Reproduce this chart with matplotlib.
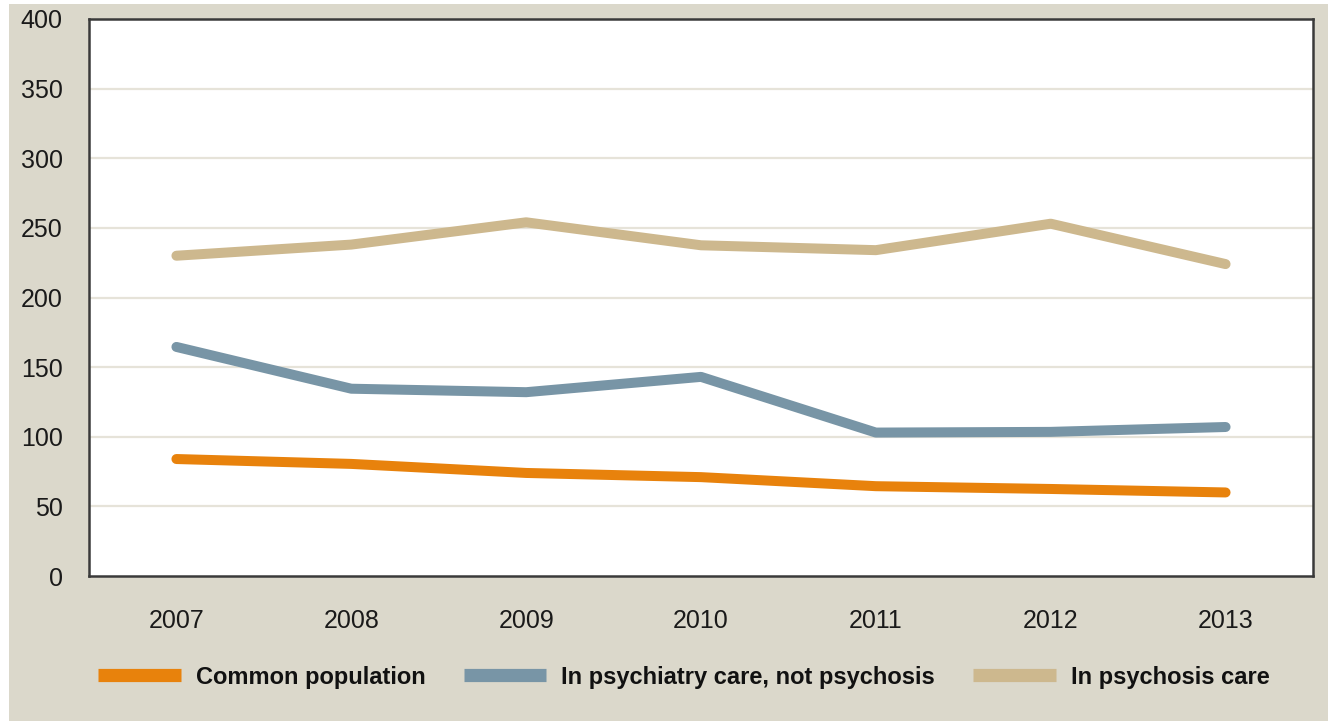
import matplotlib
matplotlib.use("Agg")
import matplotlib.pyplot as plt
from matplotlib.patches import Rectangle

years = ["2007", "2008", "2009", "2010", "2011", "2012", "2013"]
common_population = [84, 80.5, 74, 71, 64.5, 62.5, 60]
psychiatry_not_psychosis = [164.5, 134.5, 132, 143, 103, 103.5, 107]
psychosis_care = [230, 238, 254, 237.5, 234, 253, 224]

series_labels = ["Common population", "In psychiatry care, not psychosis", "In psychosis care"]
series_colors = ["#E8820C", "#7895A6", "#CDB88E"]

yticks = [0, 50, 100, 150, 200, 250, 300, 350, 400]

BG = "#DBD8CB"
TICK_FONT = ["Liberation Sans", "DejaVu Sans"]
LEG_FONT = ["Liberation Sans", "DejaVu Sans"]

fig = plt.figure(figsize=(13.28, 7.21), dpi=100)
fig.patch.set_facecolor("white")
fig.add_artist(Rectangle((9 / 1328, 0), 1 - 9 / 1328, 1 - 4 / 721,
                         transform=fig.transFigure, facecolor=BG,
                         edgecolor="none", zorder=-10))

ax = fig.add_axes([89 / 1328, 1 - 576 / 721, (1313 - 89) / 1328, (576 - 19) / 721])
ax.set_facecolor("white")

x = list(range(len(years)))
for vals, lab, col in zip([common_population, psychiatry_not_psychosis, psychosis_care],
                          series_labels, series_colors):
    ax.plot(x, vals, color=col, linewidth=7.2, solid_capstyle="round",
            solid_joinstyle="round", label=lab, zorder=3)

ax.set_xlim(-0.5, len(years) - 0.5)
ax.set_ylim(0, 400)
ax.set_xticks(x)
ax.set_xticklabels(years)
ax.set_yticks(yticks)
ax.set_yticklabels([str(v) for v in yticks])

for v in yticks[1:-1]:
    ax.axhline(v, color="#E6E3D9", linewidth=1.6, zorder=1)

for s in ax.spines.values():
    s.set_color("#3A3A3A")
    s.set_linewidth(1.8)
    s.set_zorder(5)

ax.tick_params(axis="both", length=0, colors="#1A1A1A")
ax.tick_params(axis="y", pad=19)
ax.tick_params(axis="x", pad=24)
for lbl in ax.get_xticklabels() + ax.get_yticklabels():
    lbl.set_fontfamily(TICK_FONT)
    lbl.set_fontsize(18)

handles, labels = ax.get_legend_handles_labels()
leg = fig.legend(handles, labels, loc="center", bbox_to_anchor=(0.515, 0.061),
                 ncol=3, frameon=False, handlelength=3.5, handletextpad=0.64,
                 columnspacing=1.6,
                 prop={"family": LEG_FONT, "weight": "bold", "size": 17})
for h in leg.legend_handles:
    h.set_linewidth(9.5)
    h.set_solid_capstyle("butt")
for t in leg.get_texts():
    t.set_color("#111111")

fig.savefig("out.png", dpi=100, facecolor=fig.get_facecolor())
